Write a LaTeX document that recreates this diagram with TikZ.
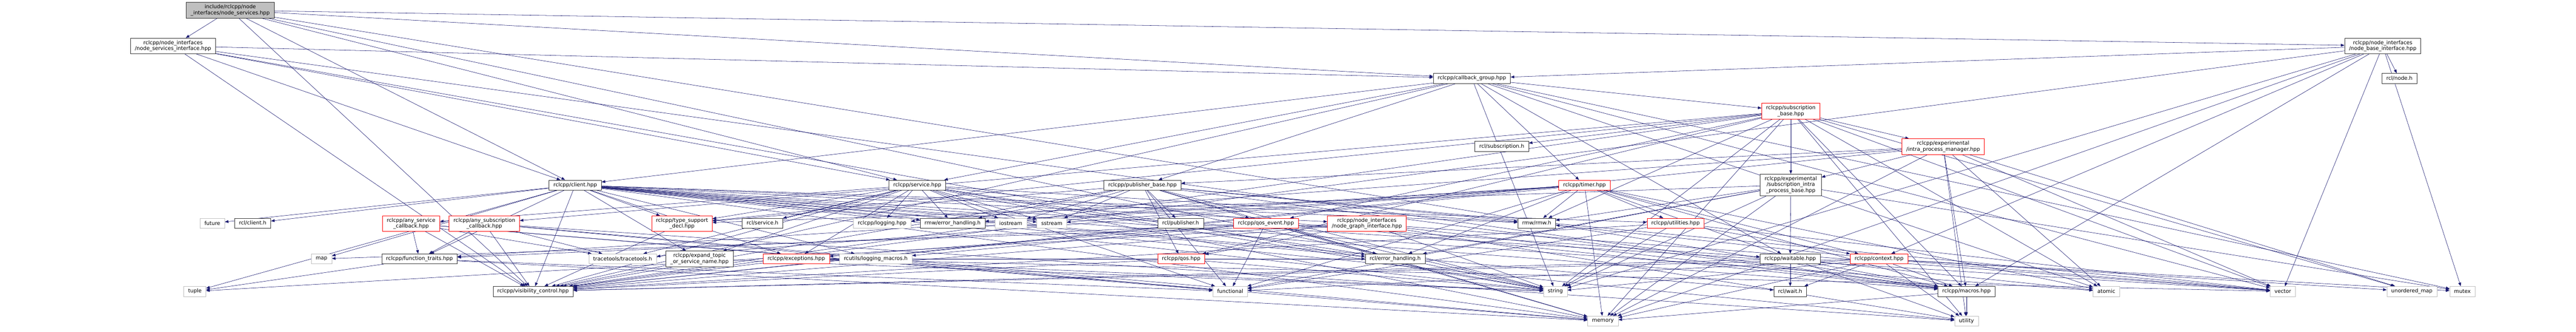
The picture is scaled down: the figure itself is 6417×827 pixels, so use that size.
\documentclass[tikz,border=0pt]{standalone}
\usepackage{fontspec}
\setmainfont{DejaVu Sans}
\usetikzlibrary{arrows.meta,backgrounds}
\definecolor{midnight}{HTML}{191970}
\definecolor{grey75}{HTML}{BFBFBF}
\begin{document}
\begin{tikzpicture}[x=1pt,y=-1pt,>={Triangle[length=9pt,width=7pt]},
  incbox/.style={draw=black!80,fill=white,line width=0.8pt,font=\fontsize{13}{15}\selectfont,
    inner xsep=11pt,inner ysep=5.5pt,minimum height=25pt,align=center},
  redbox/.style={incbox,draw=red},
  extbox/.style={incbox,draw=grey75},
  topbox/.style={incbox,fill=grey75},
  incl/.style={->,draw=midnight,fill=midnight,line width=0.7pt}]
\useasboundingbox (0,0) rectangle (6417,827);

% top of the graph
\node[topbox] (services)   at (573.5,25.5)  {include/rclcpp/node\\\_interfaces/node\_services.hpp};
\node[incbox] (servicesif) at (431,114.5)   {rclcpp/node\_interfaces\\/node\_services\_interface.hpp};
\node[incbox] (baseif)     at (5935.5,114.5) {rclcpp/node\_interfaces\\/node\_base\_interface.hpp};
\node[incbox] (rclnode)    at (5977,195.5)  {rcl/node.h};
\node[incbox] (cbgroup)    at (3666.5,195.5) {rclcpp/callback\_group.hpp};
\node[redbox] (subbase)    at (4461,277)    {rclcpp/subscription\\\_base.hpp};
\node[incbox] (rclsub)     at (3741,365)    {rcl/subscription.h};
\node[redbox] (ipm)        at (4840.5,365.5) {rclcpp/experimental\\/intra\_process\_manager.hpp};
\node[incbox] (sipb)       at (4461,461)    {rclcpp/experimental\\/subscription\_intra\\\_process\_base.hpp};
\node[incbox] (client)     at (1433,461.5)  {rclcpp/client.hpp};
\node[incbox] (service)    at (2285,461.5)  {rclcpp/service.hpp};
\node[incbox] (pubbase)    at (2846,461.5)  {rclcpp/publisher\_base.hpp};
\node[redbox] (timer)      at (3947,461.5)  {rclcpp/timer.hpp};

% middle row
\node[extbox] (future)     at (529,556.5)   {future};
\node[incbox] (rclclient)  at (629.5,556.5) {rcl/client.h};
\node[redbox] (asc)        at (1024,557.5)  {rclcpp/any\_service\\\_callback.hpp};
\node[redbox] (asubc)      at (1206.5,557.5) {rclcpp/any\_subscription\\\_callback.hpp};
\node[redbox] (tsd)        at (1699,557.5)  {rclcpp/type\_support\\\_decl.hpp};
\node[incbox] (rclservice) at (1899.5,556.5) {rcl/service.h};
\node[extbox] (logging)    at (2197.5,556.5) {rclcpp/logging.hpp};
\node[incbox] (rmwerr)     at (2373,556.5)  {rmw/error\_handling.h};
\node[extbox] (iostream)   at (2518,556.5)  {iostream};
\node[extbox] (sstream)    at (2620,556.5)  {sstream};
\node[incbox] (rclpub)     at (2941,556.5)  {rcl/publisher.h};
\node[redbox] (qosevent)   at (3153.5,556.5) {rclcpp/qos\_event.hpp};
\node[redbox] (graphif)    at (3405,557.5)  {rclcpp/node\_interfaces\\/node\_graph\_interface.hpp};
\node[incbox] (rmw)        at (3828,556.5)  {rmw/rmw.h};
\node[redbox] (utilities)  at (4174,556.5)  {rclcpp/utilities.hpp};

\node[extbox] (map)        at (801,645.5)   {map};
\node[incbox] (ftraits)    at (1045,645.5)  {rclcpp/function\_traits.hpp};
\node[extbox] (tracetools) at (1551,645.5)  {tracetools/tracetools.h};
\node[incbox] (expand)     at (1742.5,645.5) {rclcpp/expand\_topic\\\_or\_service\_name.hpp};
\node[redbox] (exceptions) at (1983.5,645.5) {rclcpp/exceptions.hpp};
\node[extbox] (logmacros)  at (2181.5,645.5) {rcutils/logging\_macros.h};
\node[redbox] (qos)        at (2942.5,645.5) {rclcpp/qos.hpp};
\node[incbox] (rclerr)     at (3475.5,645.5) {rcl/error\_handling.h};
\node[incbox] (waitable)   at (4459.5,645.5) {rclcpp/waitable.hpp};
\node[redbox] (context)    at (4681,645.5)  {rclcpp/context.hpp};

% bottom rows
\node[extbox] (tuple)      at (485.5,726.5) {tuple};
\node[incbox] (visibility) at (1328,726.5)  {rclcpp/visibility\_control.hpp};
\node[extbox] (functional) at (3064.5,726.5) {functional};
\node[extbox] (string)     at (3874.5,726.5) {string};
\node[incbox] (rclwait)    at (4459.5,726.5) {rcl/wait.h};
\node[incbox] (macros)     at (4898.5,726.5) {rclcpp/macros.hpp};
\node[extbox] (atomic)     at (5247,726.5)  {atomic};
\node[extbox] (vector)     at (5686.5,726.5) {vector};
\node[extbox] (umap)       at (6008,726.5)  {unordered\_map};
\node[extbox] (mutex)      at (6134,726.5)  {mutex};
\node[extbox] (memory)     at (3993,800.5)  {memory};
\node[extbox] (utility)    at (4898.5,800.5) {utility};

\begin{scope}[on background layer]
% node_services.hpp and the two interfaces
\draw[incl] (services) -- (servicesif); \draw[incl] (services) -- (baseif); \draw[incl] (services) -- (cbgroup); \draw[incl] (services) -- (client);
\draw[incl] (services) -- (service); \draw[incl] (services) -- (macros); \draw[incl] (services) -- (visibility); \draw[incl] (services) -- (string);
\draw[incl] (servicesif) -- (cbgroup); \draw[incl] (servicesif) -- (client); \draw[incl] (servicesif) -- (macros);
\draw[incl] (servicesif) -- (service); \draw[incl] (servicesif) -- (visibility); \draw[incl] (servicesif) -- (string);
\draw[incl] (baseif) -- (rclnode); \draw[incl] (baseif) -- (cbgroup); \draw[incl] (baseif) -- (context); \draw[incl] (baseif) -- (macros); \draw[incl] (baseif) -- (visibility);
\draw[incl] (baseif) -- (memory); \draw[incl] (baseif) -- (mutex); \draw[incl] (baseif) -- (string); \draw[incl] (baseif) -- (vector);

% callback group, subscriptions
\draw[incl] (cbgroup) -- (atomic); \draw[incl] (cbgroup) -- (mutex); \draw[incl] (cbgroup) -- (string); \draw[incl] (cbgroup) -- (vector);
\draw[incl] (cbgroup) -- (client); \draw[incl] (cbgroup) -- (pubbase); \draw[incl] (cbgroup) -- (service); \draw[incl] (cbgroup) -- (subbase);
\draw[incl] (cbgroup) -- (timer); \draw[incl] (cbgroup) -- (visibility); \draw[incl] (cbgroup) -- (waitable);
\draw[incl] (subbase) -- (rclsub); \draw[incl] (subbase) -- (rmw); \draw[incl] (subbase) -- (ipm); \draw[incl] (subbase) -- (sipb);
\draw[incl] (subbase) -- (asubc); \draw[incl] (subbase) -- (macros); \draw[incl] (subbase) -- (qos); \draw[incl] (subbase) -- (qosevent);
\draw[incl] (subbase) -- (tsd); \draw[incl] (subbase) -- (visibility); \draw[incl] (subbase) -- (memory); \draw[incl] (subbase) -- (string);
\draw[incl] (subbase) -- (umap); \draw[incl] (subbase) -- (vector); \draw[incl] (subbase) -- (utility); \draw[incl] (subbase) -- (atomic);
\draw[incl] (ipm) -- (sipb); \draw[incl] (ipm) -- (pubbase); \draw[incl] (ipm) -- (logging); \draw[incl] (ipm) -- (macros); \draw[incl] (ipm) -- (visibility);
\draw[incl] (ipm) -- (memory); \draw[incl] (ipm) -- (umap); \draw[incl] (ipm) -- (utility); \draw[incl] (ipm) -- (vector); \draw[incl] (ipm) -- (atomic);
\draw[incl] (sipb) -- (rmw); \draw[incl] (sipb) -- (functional); \draw[incl] (sipb) -- (memory); \draw[incl] (sipb) -- (mutex);
\draw[incl] (sipb) -- (string); \draw[incl] (sipb) -- (rclerr); \draw[incl] (sipb) -- (tsd); \draw[incl] (sipb) -- (waitable);

% client, service, publisher, timer
\draw[incl] (client) -- (atomic); \draw[incl] (client) -- (future); \draw[incl] (client) -- (map); \draw[incl] (client) -- (memory);
\draw[incl] (client) -- (sstream); \draw[incl] (client) -- (string); \draw[incl] (client) -- (tuple); \draw[incl] (client) -- (utility);
\draw[incl] (client) -- (vector); \draw[incl] (client) -- (rclclient); \draw[incl] (client) -- (rclerr); \draw[incl] (client) -- (rclwait);
\draw[incl] (client) -- (exceptions); \draw[incl] (client) -- (ftraits); \draw[incl] (client) -- (macros); \draw[incl] (client) -- (graphif);
\draw[incl] (client) -- (tsd); \draw[incl] (client) -- (utilities); \draw[incl] (client) -- (expand); \draw[incl] (client) -- (visibility);
\draw[incl] (client) -- (logmacros); \draw[incl] (client) -- (rmwerr); \draw[incl] (client) -- (rmw);
\draw[incl] (service) -- (functional); \draw[incl] (service) -- (iostream); \draw[incl] (service) -- (memory); \draw[incl] (service) -- (sstream);
\draw[incl] (service) -- (string); \draw[incl] (service) -- (rclerr); \draw[incl] (service) -- (rclservice); \draw[incl] (service) -- (asc);
\draw[incl] (service) -- (exceptions); \draw[incl] (service) -- (expand); \draw[incl] (service) -- (logging); \draw[incl] (service) -- (macros);
\draw[incl] (service) -- (tsd); \draw[incl] (service) -- (visibility); \draw[incl] (service) -- (rmwerr); \draw[incl] (service) -- (rmw);
\draw[incl] (service) -- (tracetools);
\draw[incl] (pubbase) -- (rmwerr); \draw[incl] (pubbase) -- (rmw); \draw[incl] (pubbase) -- (functional); \draw[incl] (pubbase) -- (iostream);
\draw[incl] (pubbase) -- (memory); \draw[incl] (pubbase) -- (sstream); \draw[incl] (pubbase) -- (string); \draw[incl] (pubbase) -- (vector);
\draw[incl] (pubbase) -- (rclpub); \draw[incl] (pubbase) -- (macros); \draw[incl] (pubbase) -- (qos); \draw[incl] (pubbase) -- (qosevent);
\draw[incl] (pubbase) -- (tsd); \draw[incl] (pubbase) -- (visibility);
\draw[incl] (timer) -- (atomic); \draw[incl] (timer) -- (functional); \draw[incl] (timer) -- (memory); \draw[incl] (timer) -- (sstream);
\draw[incl] (timer) -- (utility); \draw[incl] (timer) -- (context); \draw[incl] (timer) -- (ftraits); \draw[incl] (timer) -- (macros);
\draw[incl] (timer) -- (utilities); \draw[incl] (timer) -- (visibility); \draw[incl] (timer) -- (tracetools); \draw[incl] (timer) -- (rclerr);
\draw[incl] (timer) -- (rmwerr); \draw[incl] (timer) -- (rmw);

% lower headers
\draw[incl] (asc) -- (functional); \draw[incl] (asc) -- (memory); \draw[incl] (asc) -- (ftraits); \draw[incl] (asc) -- (visibility); \draw[incl] (asc) -- (tracetools);
\draw[incl] (asubc) -- (functional); \draw[incl] (asubc) -- (memory); \draw[incl] (asubc) -- (utility); \draw[incl] (asubc) -- (ftraits);
\draw[incl] (asubc) -- (visibility); \draw[incl] (asubc) -- (tracetools);
\draw[incl] (tsd) -- (visibility);
\draw[incl] (qosevent) -- (functional); \draw[incl] (qosevent) -- (memory); \draw[incl] (qosevent) -- (string); \draw[incl] (qosevent) -- (rclerr);
\draw[incl] (qosevent) -- (logmacros); \draw[incl] (qosevent) -- (exceptions); \draw[incl] (qosevent) -- (ftraits); \draw[incl] (qosevent) -- (waitable);
\draw[incl] (graphif) -- (map); \draw[incl] (graphif) -- (string); \draw[incl] (graphif) -- (tuple); \draw[incl] (graphif) -- (utility);
\draw[incl] (graphif) -- (vector); \draw[incl] (graphif) -- (macros); \draw[incl] (graphif) -- (qos); \draw[incl] (graphif) -- (visibility);
\draw[incl] (utilities) -- (functional); \draw[incl] (utilities) -- (string); \draw[incl] (utilities) -- (vector); \draw[incl] (utilities) -- (context); \draw[incl] (utilities) -- (visibility);
\draw[incl] (ftraits) -- (functional); \draw[incl] (ftraits) -- (memory); \draw[incl] (ftraits) -- (tuple);
\draw[incl] (expand) -- (string); \draw[incl] (expand) -- (visibility);
\draw[incl] (exceptions) -- (string); \draw[incl] (exceptions) -- (vector); \draw[incl] (exceptions) -- (rclerr); \draw[incl] (exceptions) -- (visibility);
\draw[incl] (qos) -- (string); \draw[incl] (qos) -- (visibility);
\draw[incl] (waitable) -- (atomic); \draw[incl] (waitable) -- (rclwait); \draw[incl] (waitable) -- (macros); \draw[incl] (waitable) -- (visibility);
\draw[incl] (context) -- (functional); \draw[incl] (context) -- (memory); \draw[incl] (context) -- (mutex); \draw[incl] (context) -- (string);
\draw[incl] (context) -- (umap); \draw[incl] (context) -- (utility); \draw[incl] (context) -- (vector); \draw[incl] (context) -- (rclwait);
\draw[incl] (context) -- (macros); \draw[incl] (context) -- (visibility); \draw[incl] (context) -- (rmw);
\draw[incl] (macros) -- (memory); \draw[incl] (macros) -- (utility);
\end{scope}
\end{tikzpicture}
\end{document}
